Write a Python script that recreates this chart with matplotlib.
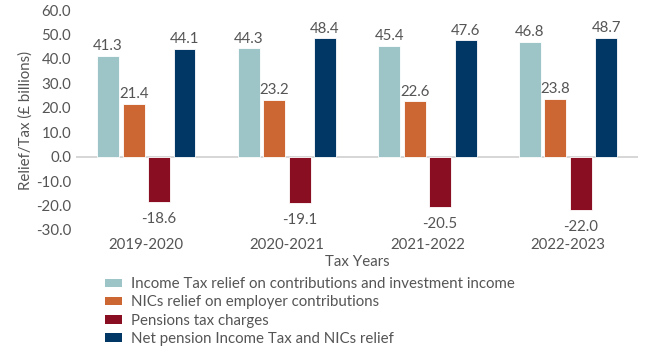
import numpy as np
import matplotlib.pyplot as plt
from matplotlib.patches import Patch

years = ["2019-2020", "2020-2021", "2021-2022", "2022-2023"]
income_tax_relief = [41.3, 44.3, 45.4, 46.8]
nics_relief = [21.4, 23.2, 22.6, 23.8]
tax_charges = [-18.6, -19.1, -20.5, -22.0]
net_relief = [44.1, 48.4, 47.6, 48.7]

series_names = [
    "Income Tax relief on contributions and investment income",
    "NICs relief on employer contributions",
    "Pensions tax charges",
    "Net pension Income Tax and NICs relief",
]
colors = ["#9DC4C7", "#CC6633", "#8A0E22", "#003764"]
TEXT = "#555555"
FS = 10.8

plt.rcParams["font.family"] = ["Lato", "DejaVu Sans"]
plt.rcParams["font.size"] = FS

fig = plt.figure(figsize=(6.5, 3.5), dpi=100)
ax = fig.add_axes([0.117, 0.343, 0.865, 0.628])

x = np.arange(len(years))
step, width = 0.181, 0.155
all_series = [income_tax_relief, nics_relief, tax_charges, net_relief]
for i, (vals, col) in enumerate(zip(all_series, colors)):
    pos = x + (i - 1.5) * step
    bars = ax.bar(pos, vals, width, color=col, edgecolor="white", linewidth=0.6, zorder=2)
    for b, v in zip(bars, vals):
        if v >= 0:
            ax.text(b.get_x() + b.get_width() / 2, v + 1.2, f"{v:.1f}",
                    ha="center", va="bottom", color=TEXT, fontsize=FS)
        else:
            ax.text(b.get_x() + b.get_width() / 2, v - 4.0, f"{v:.1f}",
                    ha="center", va="top", color=TEXT, fontsize=FS)

ax.axhline(0, color="#d0d0d0", linewidth=1.2, zorder=1)
ax.set_xlim(-0.5, 3.5)
ax.set_ylim(-30, 60)
ax.set_yticks(np.arange(-30, 61, 10))
ax.set_yticklabels([f"{t:.1f}" for t in np.arange(-30, 61, 10)])
ax.set_xticks(x)
ax.set_xticklabels(years)
ax.tick_params(length=0, colors=TEXT, labelsize=FS)
ax.tick_params(axis="x", pad=6)
for s in ax.spines.values():
    s.set_visible(False)

ax.set_ylabel("Relief/Tax (£ billions)", color=TEXT, fontsize=FS, labelpad=2)
ax.set_xlabel("Tax Years", color=TEXT, fontsize=FS, labelpad=2)

handles = [Patch(facecolor=c, edgecolor="none") for c in colors]
fig.legend(handles, series_names, loc="upper left", bbox_to_anchor=(0.162, 0.208),
           frameon=False, ncol=1, handlelength=1.1, handleheight=0.5,
           handletextpad=0.6, labelspacing=0.28, fontsize=FS, labelcolor=TEXT,
           borderaxespad=0, borderpad=0)

fig.savefig("out.png", dpi=100)
